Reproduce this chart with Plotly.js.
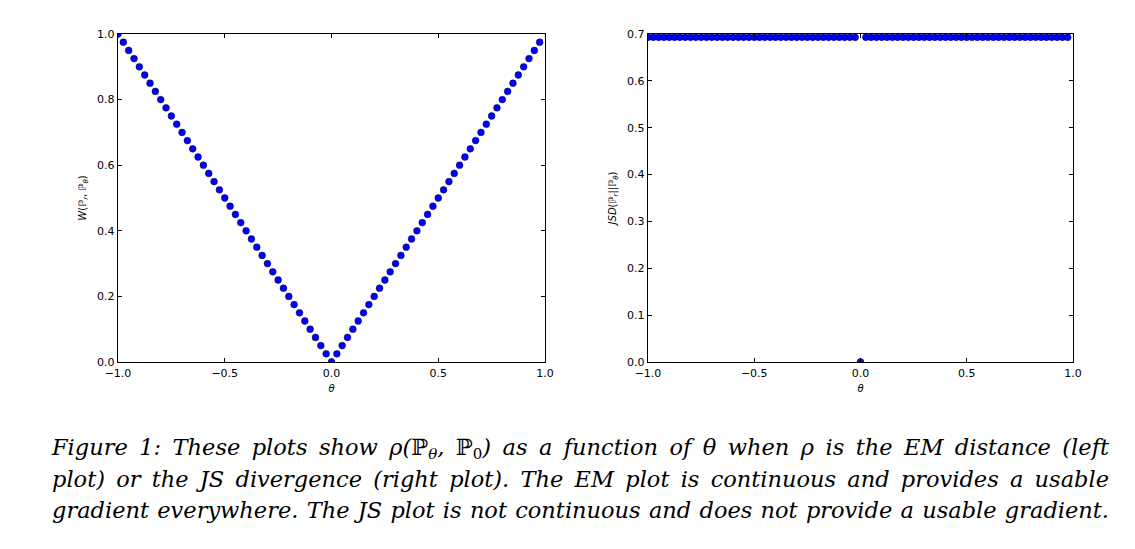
<!DOCTYPE html>
<html>
<head>
<meta charset="utf-8">
<script src="https://cdn.plot.ly/plotly-3.0.1.min.js"></script>
<style>
  html, body { margin: 0; padding: 0; background: #fff; }
  #wrap { position: relative; width: 1135px; height: 549px; overflow: hidden; }
  #chart { position: absolute; left: 0; top: 0; width: 1135px; height: 549px; }
  #caption { position: absolute; left: 52px; top: 432px; width: 1057px;
    font-family: "DejaVu Serif", "Liberation Serif", serif; font-style: italic;
    font-size: 22.5px; line-height: 31.5px; color: #000; }
  #caption div { height: 31.5px; text-align: justify; text-align-last: justify; white-space: nowrap; }
  .bb { font-style: normal; font-family: "DejaVu Serif", serif; }
  sub { font-size: 15px; line-height: 0; vertical-align: -4px; }
</style>
</head>
<body>
<div id="wrap">
  <div id="chart"></div>
  <div id="caption">
    <div>Figure 1: These plots show ρ(<span class="bb">ℙ</span><sub>θ</sub>, <span class="bb">ℙ</span><sub style="font-style:normal">0</sub>) as a function of θ when ρ is the EM distance (left</div>
    <div>plot) or the JS divergence (right plot). The EM plot is continuous and provides a usable</div>
    <div>gradient everywhere. The JS plot is not continuous and does not provide a usable gradient.</div>
  </div>
</div>
<script>
// theta sampled as np.arange(-1, 1, 0.025): 80 points
const theta = [-1.0,-0.975,-0.95,-0.925,-0.9,-0.875,-0.85,-0.825,-0.8,-0.775,-0.75,-0.725,-0.7,-0.675,-0.65,-0.625,-0.6,-0.575,-0.55,-0.525,-0.5,-0.475,-0.45,-0.425,-0.4,-0.375,-0.35,-0.325,-0.3,-0.275,-0.25,-0.225,-0.2,-0.175,-0.15,-0.125,-0.1,-0.075,-0.05,-0.025,0.0,0.025,0.05,0.075,0.1,0.125,0.15,0.175,0.2,0.225,0.25,0.275,0.3,0.325,0.35,0.375,0.4,0.425,0.45,0.475,0.5,0.525,0.55,0.575,0.6,0.625,0.65,0.675,0.7,0.725,0.75,0.775,0.8,0.825,0.85,0.875,0.9,0.925,0.95,0.975];
// EM distance W(P_r, P_theta)
const emDistance = [1.0,0.975,0.95,0.925,0.9,0.875,0.85,0.825,0.8,0.775,0.75,0.725,0.7,0.675,0.65,0.625,0.6,0.575,0.55,0.525,0.5,0.475,0.45,0.425,0.4,0.375,0.35,0.325,0.3,0.275,0.25,0.225,0.2,0.175,0.15,0.125,0.1,0.075,0.05,0.025,0.0,0.025,0.05,0.075,0.1,0.125,0.15,0.175,0.2,0.225,0.25,0.275,0.3,0.325,0.35,0.375,0.4,0.425,0.45,0.475,0.5,0.525,0.55,0.575,0.6,0.625,0.65,0.675,0.7,0.725,0.75,0.775,0.8,0.825,0.85,0.875,0.9,0.925,0.95,0.975];
// JS divergence (~0.693 everywhere except 0 at theta = 0)
const jsDivergence = [0.693,0.693,0.693,0.693,0.693,0.693,0.693,0.693,0.693,0.693,0.693,0.693,0.693,0.693,0.693,0.693,0.693,0.693,0.693,0.693,0.693,0.693,0.693,0.693,0.693,0.693,0.693,0.693,0.693,0.693,0.693,0.693,0.693,0.693,0.693,0.693,0.693,0.693,0.693,0.693,0.0,0.693,0.693,0.693,0.693,0.693,0.693,0.693,0.693,0.693,0.693,0.693,0.693,0.693,0.693,0.693,0.693,0.693,0.693,0.693,0.693,0.693,0.693,0.693,0.693,0.693,0.693,0.693,0.693,0.693,0.693,0.693,0.693,0.693,0.693,0.693,0.693,0.693,0.693,0.693];

const xTickVals = [-1, -0.5, 0, 0.5, 1];
const xTickText = ["\u22121.0", "\u22120.5", "0.0", "0.5", "1.0"];
const yTickValsLeft = [0, 0.2, 0.4, 0.6, 0.8, 1.0];
const yTickTextLeft = ["0.0", "0.2", "0.4", "0.6", "0.8", "1.0"];
const yTickValsRight = [0, 0.1, 0.2, 0.3, 0.4, 0.5, 0.6, 0.7];
const yTickTextRight = ["0.0", "0.1", "0.2", "0.3", "0.4", "0.5", "0.6", "0.7"];

const marker = { color: '#0000ff', size: 6.8, line: { color: '#000033', width: 0.5 } };

const traces = [
  { x: theta, y: emDistance, type: 'scatter', mode: 'markers', marker: marker, xaxis: 'x', yaxis: 'y', hoverinfo: 'x+y' },
  { x: theta, y: jsDivergence, type: 'scatter', mode: 'markers', marker: marker, xaxis: 'x2', yaxis: 'y2', hoverinfo: 'x+y' }
];

const W = 1135, H = 549;
const yDom = [1 - 362 / H, 1 - 34 / H];
const tickFont = { family: 'DejaVu Sans, sans-serif', size: 11, color: '#000' };
const titleFont = { family: 'DejaVu Sans, sans-serif', size: 10, color: '#000' };

function xAxis(dom, anchor) {
  return {
    domain: dom, anchor: anchor, range: [-1, 1], tickmode: 'array', tickvals: xTickVals, ticktext: xTickText,
    ticks: 'inside', ticklen: 4, tickwidth: 1, tickcolor: '#000', mirror: 'ticks',
    showline: true, linecolor: '#000', linewidth: 1.3, showgrid: false, zeroline: false,
    tickfont: tickFont, automargin: false,
    title: { text: '<i>θ</i>', font: titleFont, standoff: 6 }
  };
}
function yAxis(range, vals, text, anchor, titleText) {
  return {
    domain: yDom, anchor: anchor, range: range, tickmode: 'array', tickvals: vals, ticktext: text,
    ticks: 'inside', ticklen: 4, tickwidth: 1, tickcolor: '#000', mirror: 'ticks',
    showline: true, linecolor: '#000', linewidth: 1.3, showgrid: false, zeroline: false,
    tickfont: tickFont, automargin: false,
    title: { text: titleText, font: titleFont, standoff: 8 }
  };
}

const layout = {
  width: W, height: H,
  margin: { l: 0, r: 0, t: 0, b: 0 },
  paper_bgcolor: '#fff', plot_bgcolor: '#fff',
  showlegend: false,
  xaxis: xAxis([118 / W, 545 / W], 'y'),
  yaxis: yAxis([0, 1], yTickValsLeft, yTickTextLeft, 'x', '<i>W</i>(<i>ℙ<sub>r</sub></i>, <i>ℙ<sub>θ</sub></i>)'),
  xaxis2: xAxis([648 / W, 1073 / W], 'y2'),
  yaxis2: yAxis([0, 0.7], yTickValsRight, yTickTextRight, 'x2', '<i>JSD</i>(<i>ℙ<sub>r</sub></i>||<i>ℙ<sub>θ</sub></i>)')
};

Plotly.newPlot('chart', traces, layout, { displayModeBar: false, staticPlot: true });
</script>
</body>
</html>
